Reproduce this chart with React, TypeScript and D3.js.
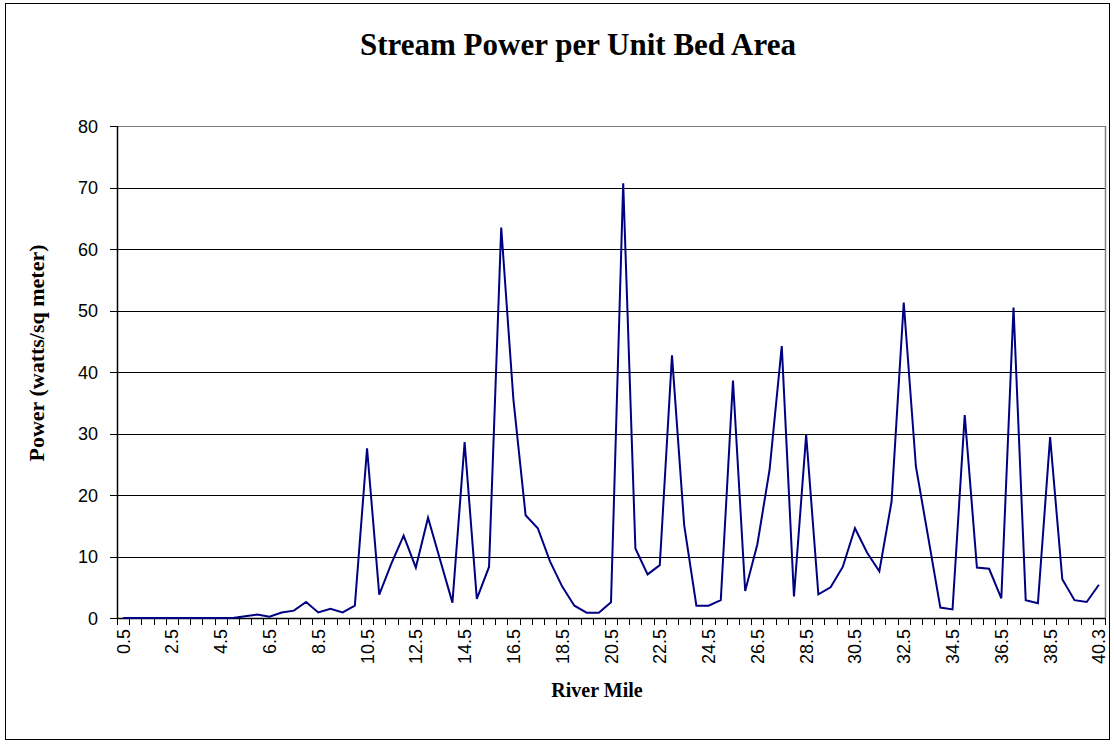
import React from "react";
import * as d3 from "d3";

const categories: string[] = [
  "0.5","1.0","1.5","2.0","2.5","3.0","3.5","4.0","4.5","5.0",
  "5.5","6.0","6.5","7.0","7.5","8.0","8.5","9.0","9.5","10.0",
  "10.5","11.0","11.5","12.0","12.5","13.0","13.5","14.0","14.5","15.0",
  "15.5","16.0","16.5","17.0","17.5","18.0","18.5","19.0","19.5","20.0",
  "20.5","21.0","21.5","22.0","22.5","23.0","23.5","24.0","24.5","25.0",
  "25.5","26.0","26.5","27.0","27.5","28.0","28.5","29.0","29.5","30.0",
  "30.5","31.0","31.5","32.0","32.5","33.0","33.5","34.0","34.5","35.0",
  "35.5","36.0","36.5","37.0","37.5","38.0","38.5","39.0","39.5","40.0",
  "40.3",
];

const power: number[] = [
  0, 0, 0, 0, 0, 0, 0, 0, 0, 0,
  0.3, 0.55, 0.2, 0.9, 1.2, 2.6, 0.9, 1.5, 0.9, 2.0,
  27.6, 3.8, 8.9, 13.4, 8.2, 16.3, 9.4, 2.5, 28.6, 3.1,
  8.3, 63.5, 35.5, 16.7, 14.6, 9.2, 5.1, 2.0, 0.87, 0.87,
  2.55, 70.7, 11.3, 7.1, 8.6, 42.7, 15.1, 2.0, 2.0, 2.9,
  38.6, 4.4, 12.0, 24.1, 44.2, 3.5, 29.8, 3.85, 5.0, 8.3,
  14.6, 10.6, 7.6, 18.9, 51.3, 24.6, 13.2, 1.7, 1.4, 33.0,
  8.2, 8.0, 3.2, 50.5, 2.9, 2.4, 29.4, 6.3, 2.9, 2.6,
  5.4,
];

const yTicks: number[] = [0, 10, 20, 30, 40, 50, 60, 70, 80];

const title = "Stream Power per Unit Bed Area";
const xTitle = "River Mile";
const yTitle = "Power (watts/sq meter)";

export default function App() {
  const W = 1114, H = 744;
  const left = 117, right = 1105, top = 126, bottom = 618;

  const x = d3.scaleBand<string>().domain(categories).range([left, right]).padding(0);
  const y = d3.scaleLinear().domain([0, 80]).range([bottom, top]);
  const cx = (c: string) => (x(c) as number) + x.bandwidth() / 2;

  const line = d3.line<number>()
    .x((_, i) => cx(categories[i]))
    .y((d) => y(d));

  const serif = "'Liberation Serif', 'Times New Roman', serif";
  const sans = "'Liberation Sans', Arial, sans-serif";

  const boundaries = categories.map((c) => x(c) as number).concat([right]);

  return (
    <svg width={W} height={H} style={{ position: "absolute", left: 0, top: 0, background: "#fff" }}>
      <rect x={5.5} y={3.5} width={1104} height={736} fill="#fff" stroke="#000" strokeWidth={1} />
      <text x={578} y={55} textAnchor="middle" fontFamily={serif} fontWeight="bold" fontSize={31}>
        {title}
      </text>

      {/* gridlines */}
      {yTicks.map((t) => (
        <line key={"g" + t} x1={left} x2={right} y1={Math.round(y(t)) + 0.5} y2={Math.round(y(t)) + 0.5}
          stroke={t === 80 ? "#808080" : "#000"} strokeWidth={1} />
      ))}
      {/* plot area right border */}
      <line x1={right + 0.5} x2={right + 0.5} y1={top} y2={bottom} stroke="#808080" strokeWidth={1.5} />

      {/* y axis */}
      <line x1={left + 0.5} x2={left + 0.5} y1={top} y2={bottom + 1} stroke="#000" strokeWidth={1.5} />
      {yTicks.map((t) => (
        <g key={"yt" + t}>
          <line x1={left - 7} x2={left} y1={Math.round(y(t)) + 0.5} y2={Math.round(y(t)) + 0.5} stroke="#000" />
          <text x={98} y={y(t) + 6.5} textAnchor="end" fontFamily={sans} fontSize={18}>{t}</text>
        </g>
      ))}

      {/* x axis */}
      <line x1={left} x2={right} y1={bottom + 0.5} y2={bottom + 0.5} stroke="#000" strokeWidth={1.5} />
      {boundaries.map((bx, i) => (
        <line key={"xt" + i} x1={Math.round(bx) + 0.5} x2={Math.round(bx) + 0.5} y1={bottom} y2={bottom + 7} stroke="#000" />
      ))}
      {categories.map((c, i) =>
        i % 4 === 0 ? (
          <text key={"xl" + c} transform={`translate(${cx(c) + 6.5},${bottom + 11}) rotate(-90)`}
            textAnchor="end" fontFamily={sans} fontSize={18}>{c}</text>
        ) : null
      )}

      {/* data line */}
      <path d={line(power) || ""} fill="none" stroke="#000080" strokeWidth={2} strokeLinejoin="miter" />

      <text x={597} y={697} textAnchor="middle" fontFamily={serif} fontWeight="bold" fontSize={20}>{xTitle}</text>
      <text transform={`translate(44,353) rotate(-90)`} textAnchor="middle" fontFamily={serif} fontWeight="bold" fontSize={22}>
        {yTitle}
      </text>
    </svg>
  );
}
